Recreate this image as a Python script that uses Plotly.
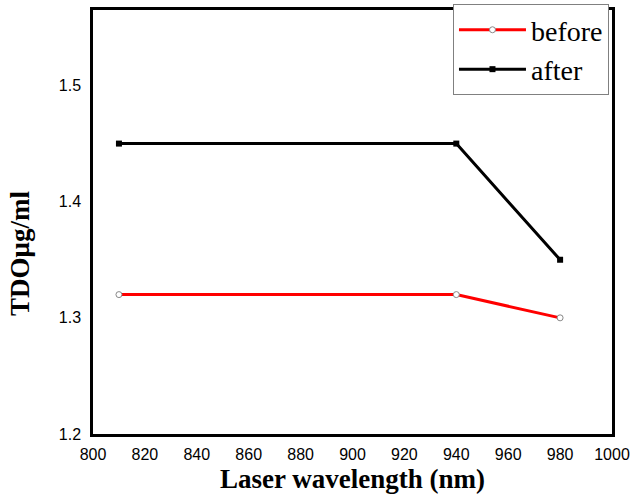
import plotly.graph_objects as go

wavelength = [810, 940, 980]
before = [1.32, 1.32, 1.30]
after = [1.45, 1.45, 1.35]
x_ticks = list(range(800, 1001, 20))
y_ticks = [1.2, 1.3, 1.4, 1.5]

fig = go.Figure()
fig.add_trace(go.Scatter(
    x=wavelength, y=before, name="before", mode="lines+markers",
    line=dict(color="#ff0000", width=3),
    marker=dict(symbol="circle", size=6, color="white", line=dict(color="#888888", width=1)),
))
fig.add_trace(go.Scatter(
    x=wavelength, y=after, name="after", mode="lines+markers",
    line=dict(color="black", width=3),
    marker=dict(symbol="square", size=6, color="black"),
))

fig.update_layout(
    width=633, height=494,
    margin=dict(l=93, r=21, t=10, b=60, autoexpand=False),
    paper_bgcolor="white", plot_bgcolor="white",
    showlegend=True,
    legend=dict(
        x=0.6936, y=1.014, xanchor="left", yanchor="top",
        bgcolor="white", bordercolor="#808080", borderwidth=1,
        font=dict(family="Liberation Serif", size=28, color="black"),
        tracegroupgap=0, itemwidth=67,
    ),
    xaxis=dict(
        range=[800, 1000], tickvals=x_ticks, ticktext=[str(v) for v in x_ticks],
        showgrid=False, zeroline=False, showline=True, linecolor="black", linewidth=2.5, mirror=True,
        ticks="", ticklabelstandoff=4,
        tickfont=dict(family="Liberation Sans", size=16, color="black"),
        title=dict(text="<b>Laser wavelength (nm)</b>", font=dict(family="Liberation Serif", size=27, color="black"), standoff=9),
    ),
    yaxis=dict(
        range=[1.2, 1.565], tickvals=y_ticks, ticktext=[f"{v:.1f}" for v in y_ticks],
        showgrid=False, zeroline=False, showline=True, linecolor="black", linewidth=2.5, mirror=True,
        ticks="", ticklabelstandoff=6,
        tickfont=dict(family="Liberation Sans", size=16, color="black"),
    ),
    annotations=[dict(
        text="<b>TDOμg/ml</b>", textangle=-90, showarrow=False,
        xref="paper", yref="paper", x=-0.1407, y=0.427, xanchor="center", yanchor="middle",
        font=dict(family="Liberation Serif", size=27, color="black"),
    )],
)

fig.write_html("out.html")
